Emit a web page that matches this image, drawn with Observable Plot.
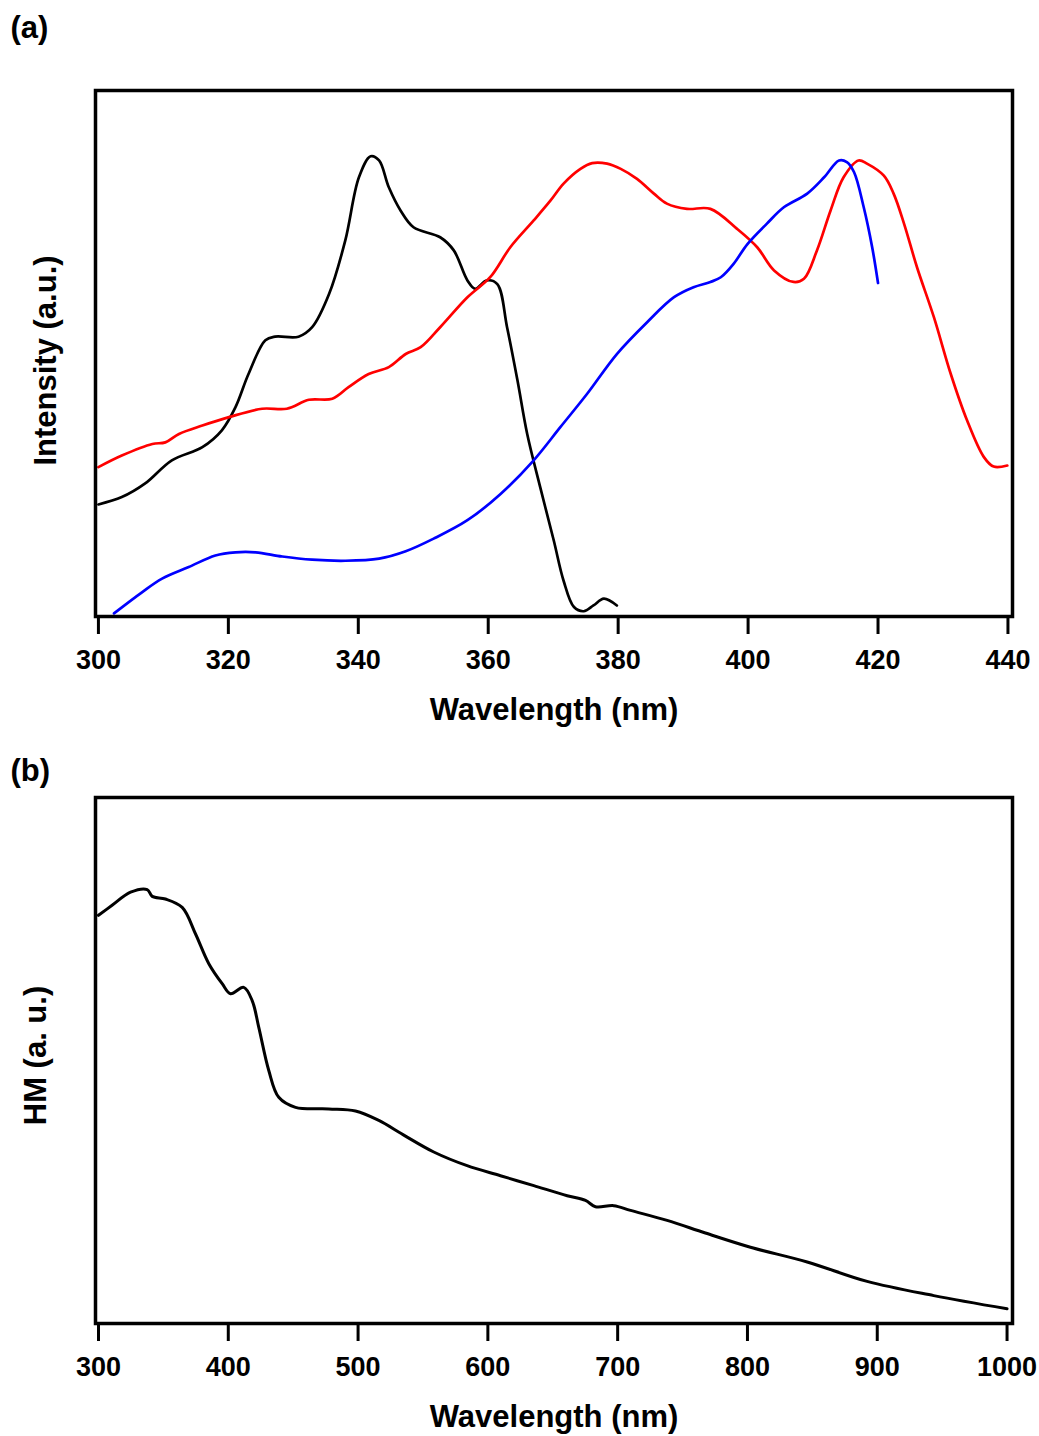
<!DOCTYPE html>
<html>
<head>
<meta charset="utf-8">
<script src="https://cdn.jsdelivr.net/npm/d3@7"></script>
<script src="https://cdn.jsdelivr.net/npm/@observablehq/plot@0.6"></script>
<style>
  body { margin: 0; background: #fff; }
  #wrap { width: 1039px; }
  #wrap svg { display: block; }
</style>
</head>
<body>
<div id="wrap"></div>
<script>
// ---- Panel (a): spectra, wavelength (nm) vs intensity (a.u., 0-100 of frame height)
const blackNm = [300, 303.6, 307.2, 311.3, 316, 319, 321.1, 323.1, 325.7, 327.2, 330.8, 332.9, 335.5, 338, 340.1, 341.9, 343.2, 344.7, 346.5, 348.5, 352.6, 354.7, 356.8, 358, 359.8, 361.4, 362.9, 364.5, 366, 368, 370.1, 371.6, 373.2, 374.7, 376.2, 377.8, 379.8];
const blackI  = [21.3, 22.7, 25.3, 29.7, 32.2, 35.4, 39.8, 46.1, 52.5, 53.2, 53.2, 55, 61.3, 71.5, 83.5, 87.5, 86.7, 81.6, 77.2, 74, 72.1, 69.6, 63.9, 62.3, 63.9, 63.2, 55, 44.9, 34.7, 24.6, 14.4, 6.8, 1.8, 1.0, 2.1, 3.4, 2.1];

const redNm = [300, 303.6, 308.3, 310.3, 312.4, 316, 320.1, 325.2, 329, 332.4, 336, 338.5, 341.6, 344.7, 347.3, 349.6, 352.6, 356.8, 360.3, 363.4, 367, 369.6, 371.6, 374.2, 376, 378.3, 380.4, 382.9, 385.5, 387.5, 390.6, 394.2, 398.3, 401.4, 404, 407, 408.6, 410.6, 412.7, 414.7, 417, 418.3, 420.9, 422.4, 424, 426, 428.6, 431.2, 433.7, 436.3, 437.8, 439.9];
const redI  = [28.4, 30.6, 32.8, 33.1, 34.7, 36.3, 37.9, 39.5, 39.5, 41.2, 41.4, 43.6, 46.1, 47.4, 49.9, 51.2, 55, 60.7, 64.5, 70.2, 75.3, 79.1, 82.3, 85.1, 86.2, 86.1, 85.1, 83.2, 80.4, 78.5, 77.5, 77.5, 73.7, 70.2, 65.8, 63.6, 64.2, 69.6, 77.2, 83.5, 86.7, 86.1, 83.8, 80.4, 74.7, 66.4, 56.9, 46.1, 37.3, 30.3, 28.5, 28.7];

const blueNm = [302.4, 306.7, 309.8, 313.9, 318, 321.1, 324.2, 328.3, 332.9, 338, 343.2, 347.3, 351.6, 356.8, 361.9, 367, 371.1, 375.2, 379.8, 384.5, 388.6, 391.6, 394.2, 395.8, 397.8, 399.9, 402.9, 405.5, 409.1, 411.7, 414, 415.2, 416.3, 417.8, 419.1, 420];
const blueI  = [0.6, 4.6, 7.2, 9.4, 11.6, 12.2, 12.2, 11.4, 10.8, 10.6, 11, 12.4, 14.8, 18.3, 23.3, 29.7, 36, 42.3, 49.9, 56, 60.7, 62.6, 63.6, 64.5, 67.1, 70.8, 74.7, 77.8, 80.4, 83.5, 86.7, 86.4, 84.5, 77.8, 70.2, 63.4];

const ticksA = [300, 320, 340, 360, 380, 400, 420, 440];

// ---- Panel (b): HM (a.u.) vs wavelength (nm)
const hmNm  = [300, 310.5, 324.7, 337.5, 341.4, 351.6, 364.5, 374.7, 385, 395.3, 401.7, 411.9, 418.4, 423.5, 431.2, 438.9, 451.8, 477.4, 498, 516, 534.6, 558.3, 584, 609.7, 635.4, 661.1, 675.2, 682.9, 697, 709.9, 738.1, 767.6, 802.3, 846, 892.2, 943.5, 1000];
const hmVal = [77.6, 79.5, 82, 82.5, 81.2, 80.7, 79.1, 74.1, 68.4, 64.6, 62.7, 63.9, 61.4, 56.3, 48.1, 43, 41.1, 40.8, 40.4, 38.6, 35.9, 32.6, 30, 28.1, 26.2, 24.3, 23.4, 22.2, 22.4, 21.5, 19.6, 17.2, 14.5, 11.7, 8, 5.3, 2.8];

const ticksB = [300, 400, 500, 600, 700, 800, 900, 1000];

// build tables
const series = [
  {name: "black", color: "#000000", nm: blackNm, v: blackI},
  {name: "red",   color: "#ff1a1a", nm: redNm,   v: redI},
  {name: "blue",  color: "#2a3fcf", nm: blueNm,  v: blueI}
];
const rowsA = series.flatMap(s => s.nm.map((x, i) => ({nm: x, v: s.v[i], s: s.name})));
const rowsB = hmNm.map((x, i) => ({nm: x, v: hmVal[i]}));

const font = "'Liberation Sans', Arial, Helvetica, sans-serif";
const baseStyle = {fontFamily: font, fontWeight: "bold", background: "#fff", color: "#000", overflow: "visible"};

function labels(xLabel, yLabel, panel, yLabelDx, yLabelDy, panelDy) {
  return [
    Plot.text([xLabel], {frameAnchor: "bottom", dy: 94, lineAnchor: "middle", textAnchor: "middle", fontSize: 31, fontWeight: "bold", text: d => d, style: "letter-spacing:0.6px"}),
    Plot.text([yLabel], {frameAnchor: "left", dx: yLabelDx, dy: yLabelDy, rotate: -90, textAnchor: "middle", lineAnchor: "middle", fontSize: 31, fontWeight: "bold", text: d => d, style: "letter-spacing:0.5px"}),
    Plot.text([panel], {frameAnchor: "top-left", dx: -85, dy: panelDy, textAnchor: "start", lineAnchor: "middle", fontSize: 31, fontWeight: "bold", text: d => d})
  ];
}

const plotA = Plot.plot({
  width: 1039,
  height: 740,
  marginTop: 90,
  marginBottom: 124,
  marginLeft: 95,
  marginRight: 27,
  style: baseStyle,
  x: {domain: [299.55, 440.7]},
  y: {domain: [0, 100], axis: null},
  color: {domain: series.map(s => s.name), range: series.map(s => s.color)},
  marks: [
    Plot.line(rowsA, {x: "nm", y: "v", z: "s", stroke: "s", strokeWidth: 2.7, curve: "catmull-rom"}),
    Plot.frame({stroke: "#000", strokeWidth: 3.5}),
    Plot.axisX({ticks: ticksA, tickSize: 18, tickPadding: 15, strokeWidth: 3, fontSize: 27, tickFormat: d => String(d), label: null}),
    ...labels("Wavelength (nm)", "Intensity (a.u.)", "(a)", -49, 7, -62)
  ]
});

const plotB = Plot.plot({
  width: 1039,
  height: 696,
  marginTop: 57,
  marginBottom: 113,
  marginLeft: 95,
  marginRight: 27,
  style: baseStyle,
  x: {domain: [297.7, 1004.2]},
  y: {domain: [0, 100], axis: null},
  marks: [
    Plot.line(rowsB, {x: "nm", y: "v", stroke: "#000", strokeWidth: 3, curve: "catmull-rom"}),
    Plot.frame({stroke: "#000", strokeWidth: 3.5}),
    Plot.axisX({ticks: ticksB, tickSize: 18, tickPadding: 15, strokeWidth: 3, fontSize: 27, tickFormat: d => String(d), label: null}),
    ...labels("Wavelength (nm)", "HM (a. u.)", "(b)", -59, -5, -26)
  ]
});

document.getElementById("wrap").append(plotA, plotB);
</script>
</body>
</html>
